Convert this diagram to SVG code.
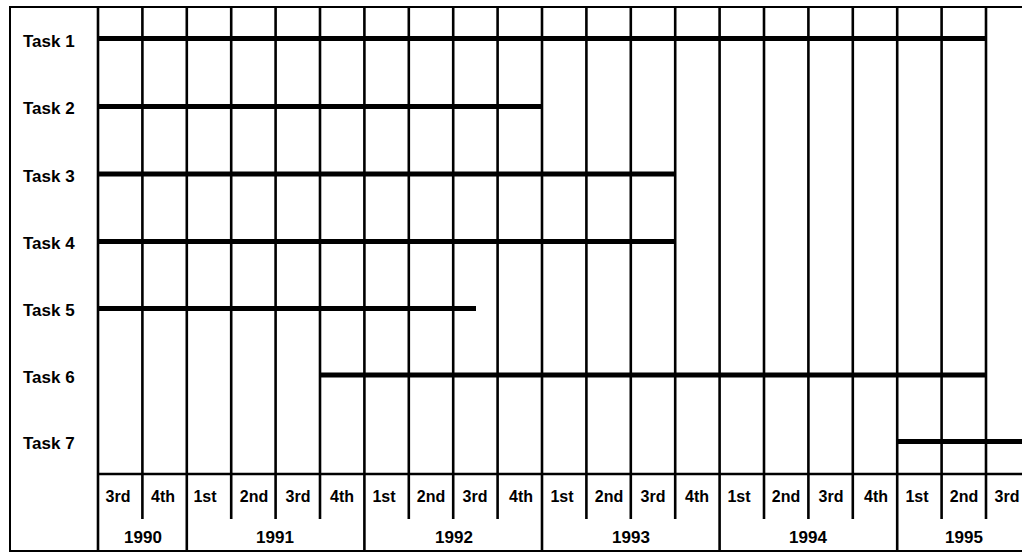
<svg xmlns="http://www.w3.org/2000/svg" width="1022" height="552" viewBox="0 0 1022 552">
<style>
.frame{stroke:#000;fill:none;stroke-width:2}
.grid{stroke:#000;stroke-width:2.6;fill:none}
.bar{stroke:#000;stroke-width:5;fill:none}
.lbl{font-family:"Liberation Sans",Arial,sans-serif;font-weight:bold;font-size:17px;fill:#000}
.q{font-family:"Liberation Sans",Arial,sans-serif;font-weight:bold;font-size:16px;fill:#000;text-anchor:middle}
.y{font-family:"Liberation Sans",Arial,sans-serif;font-weight:bold;font-size:17px;fill:#000;text-anchor:middle}
</style>
<rect width="1022" height="552" fill="#fff"/>
<g id="frame">
<line class="frame" x1="10" y1="7" x2="1022" y2="7"/>
<line class="frame" x1="10" y1="6" x2="10" y2="552" stroke-width="1.6"/>
<line class="frame" x1="10" y1="551" x2="1022" y2="551" stroke="#555" stroke-width="1.5"/>
<line class="grid" x1="98" y1="6" x2="98" y2="552"/>
<line class="grid" x1="98" y1="474" x2="1022" y2="474"/>
</g>
<g id="grid">
<line class="grid" x1="142.4" y1="7" x2="142.4" y2="519"/>
<line class="grid" x1="186.8" y1="7" x2="186.8" y2="552"/>
<line class="grid" x1="231.2" y1="7" x2="231.2" y2="519"/>
<line class="grid" x1="275.6" y1="7" x2="275.6" y2="519"/>
<line class="grid" x1="320" y1="7" x2="320" y2="519"/>
<line class="grid" x1="364.4" y1="7" x2="364.4" y2="552"/>
<line class="grid" x1="408.8" y1="7" x2="408.8" y2="519"/>
<line class="grid" x1="453.2" y1="7" x2="453.2" y2="519"/>
<line class="grid" x1="497.6" y1="7" x2="497.6" y2="519"/>
<line class="grid" x1="542" y1="7" x2="542" y2="552"/>
<line class="grid" x1="586.4" y1="7" x2="586.4" y2="519"/>
<line class="grid" x1="630.8" y1="7" x2="630.8" y2="519"/>
<line class="grid" x1="675.2" y1="7" x2="675.2" y2="519"/>
<line class="grid" x1="719.6" y1="7" x2="719.6" y2="552"/>
<line class="grid" x1="764" y1="7" x2="764" y2="519"/>
<line class="grid" x1="808.4" y1="7" x2="808.4" y2="519"/>
<line class="grid" x1="852.8" y1="7" x2="852.8" y2="519"/>
<line class="grid" x1="897.2" y1="7" x2="897.2" y2="552"/>
<line class="grid" x1="941.6" y1="7" x2="941.6" y2="519"/>
<line class="grid" x1="986" y1="7" x2="986" y2="519"/>
</g>
<g id="task1"><text class="lbl" x="23" y="47">Task 1</text><line class="bar" x1="98" y1="38.5" x2="987" y2="38.5"/></g>
<g id="task2"><text class="lbl" x="23" y="114">Task 2</text><line class="bar" x1="98" y1="106.5" x2="543" y2="106.5"/></g>
<g id="task3"><text class="lbl" x="23" y="182">Task 3</text><line class="bar" x1="98" y1="174" x2="676" y2="174"/></g>
<g id="task4"><text class="lbl" x="23" y="249">Task 4</text><line class="bar" x1="98" y1="241.5" x2="676" y2="241.5"/></g>
<g id="task5"><text class="lbl" x="23" y="316">Task 5</text><line class="bar" x1="98" y1="308.5" x2="476" y2="308.5"/></g>
<g id="task6"><text class="lbl" x="23" y="383">Task 6</text><line class="bar" x1="320" y1="375" x2="987" y2="375"/></g>
<g id="task7"><text class="lbl" x="23" y="449">Task 7</text><line class="bar" x1="897" y1="441.5" x2="1022" y2="441.5"/></g>
<g id="quarters">
<text class="q" x="118" y="502">3rd</text>
<text class="q" x="163" y="502">4th</text>
<text class="q" x="205" y="502">1st</text>
<text class="q" x="254" y="502">2nd</text>
<text class="q" x="298" y="502">3rd</text>
<text class="q" x="342" y="502">4th</text>
<text class="q" x="384" y="502">1st</text>
<text class="q" x="431" y="502">2nd</text>
<text class="q" x="475" y="502">3rd</text>
<text class="q" x="521" y="502">4th</text>
<text class="q" x="562" y="502">1st</text>
<text class="q" x="609" y="502">2nd</text>
<text class="q" x="653" y="502">3rd</text>
<text class="q" x="697" y="502">4th</text>
<text class="q" x="739" y="502">1st</text>
<text class="q" x="786" y="502">2nd</text>
<text class="q" x="831" y="502">3rd</text>
<text class="q" x="876" y="502">4th</text>
<text class="q" x="917" y="502">1st</text>
<text class="q" x="964" y="502">2nd</text>
<text class="q" x="1007" y="502">3rd</text>
</g>
<g id="years">
<text class="y" x="143" y="543">1990</text>
<text class="y" x="275" y="543">1991</text>
<text class="y" x="454" y="543">1992</text>
<text class="y" x="631" y="543">1993</text>
<text class="y" x="808" y="543">1994</text>
<text class="y" x="964" y="543">1995</text>
</g>
</svg>
